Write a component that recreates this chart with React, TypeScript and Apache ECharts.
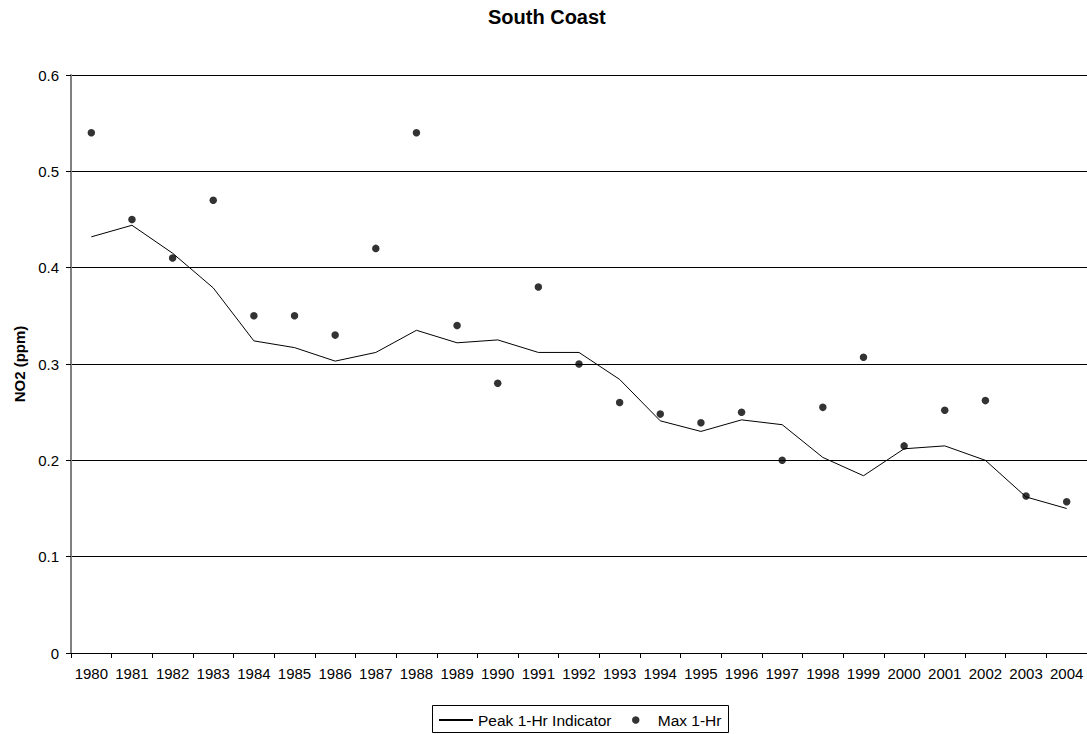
import React, { useEffect, useRef } from "react";
import * as echarts from "echarts";

const years = [
  "1980", "1981", "1982", "1983", "1984", "1985", "1986", "1987", "1988", "1989",
  "1990", "1991", "1992", "1993", "1994", "1995", "1996", "1997", "1998", "1999",
  "2000", "2001", "2002", "2003", "2004",
];

const peakIndicator = [
  0.432, 0.444, 0.415, 0.379, 0.324, 0.317, 0.303, 0.312, 0.335, 0.322,
  0.325, 0.312, 0.312, 0.284, 0.241, 0.23, 0.242, 0.237, 0.203, 0.184,
  0.212, 0.215, 0.2, 0.162, 0.15,
];

const maxOneHr = [
  0.54, 0.45, 0.41, 0.47, 0.35, 0.35, 0.33, 0.42, 0.54, 0.34,
  0.28, 0.38, 0.3, 0.26, 0.248, 0.239, 0.25, 0.2, 0.255, 0.307,
  0.215, 0.252, 0.262, 0.163, 0.157,
];

const FONT = "Liberation Sans, Arial, sans-serif";
const legendText = { fontFamily: FONT, fontSize: 15.5, color: "#000" };

export default function App() {
  const ref = useRef<HTMLDivElement>(null);
  useEffect(() => {
    if (!ref.current) return;
    const chart = echarts.init(ref.current, undefined, { renderer: "svg" });
    chart.setOption({
      animation: false,
      backgroundColor: "#ffffff",
      textStyle: { fontFamily: FONT, color: "#000" },
      title: {
        text: "South Coast",
        left: 488,
        top: 7,
        padding: 0,
        textStyle: { fontFamily: FONT, fontSize: 20, fontWeight: "bold", color: "#000" },
      },
      grid: { left: 71, right: 0, top: 75, bottom: 81, containLabel: false },
      legend: [
        {
          left: 438,
          top: 712,
          padding: 0,
          itemWidth: 34,
          itemHeight: 1,
          textStyle: legendText,
          data: [{ name: "Peak 1-Hr Indicator" }],
        },
        {
          left: 632,
          top: 712,
          padding: 0,
          itemWidth: 34,
          itemHeight: 7.5,
          textStyle: legendText,
          data: [{ name: "Max 1-Hr", icon: "circle" }],
        },
      ],
      graphic: [
        {
          type: "rect",
          shape: { x: 432.5, y: 705.5, width: 296, height: 27 },
          style: { fill: "none", stroke: "#000", lineWidth: 1 },
          silent: true,
        },
      ],
      xAxis: {
        type: "category",
        data: years,
        boundaryGap: true,
        axisLine: { lineStyle: { color: "#000", width: 1 } },
        axisTick: { show: true, length: 5, alignWithLabel: false, lineStyle: { color: "#000" } },
        axisLabel: { interval: 0, margin: 13, fontFamily: FONT, fontSize: 15, color: "#000" },
        splitLine: { show: false },
      },
      yAxis: {
        type: "value",
        min: 0,
        max: 0.6,
        interval: 0.1,
        name: "NO2 (ppm)",
        nameLocation: "middle",
        nameGap: 41,
        nameTextStyle: { fontFamily: FONT, fontSize: 15, fontWeight: "bold", color: "#000" },
        axisLine: { show: true, lineStyle: { color: "#808080", width: 2 } },
        axisTick: { show: true, length: 5, lineStyle: { color: "#000" } },
        axisLabel: { margin: 12, fontFamily: FONT, fontSize: 15, color: "#000" },
        splitLine: { show: true, lineStyle: { color: "#000", width: 1 } },
      },
      series: [
        {
          name: "Peak 1-Hr Indicator",
          type: "line",
          data: peakIndicator,
          symbol: "none",
          lineStyle: { color: "#000", width: 1 },
          itemStyle: { color: "#000" },
          z: 2,
        },
        {
          name: "Max 1-Hr",
          type: "scatter",
          data: maxOneHr,
          symbol: "circle",
          symbolSize: 7.5,
          itemStyle: { color: "#000" },
          z: 3,
        },
      ],
    });
    return () => chart.dispose();
  }, []);
  return (
    <div
      ref={ref}
      style={{ position: "fixed", left: 0, top: 0, width: 1087, height: 734, background: "#fff" }}
    />
  );
}
